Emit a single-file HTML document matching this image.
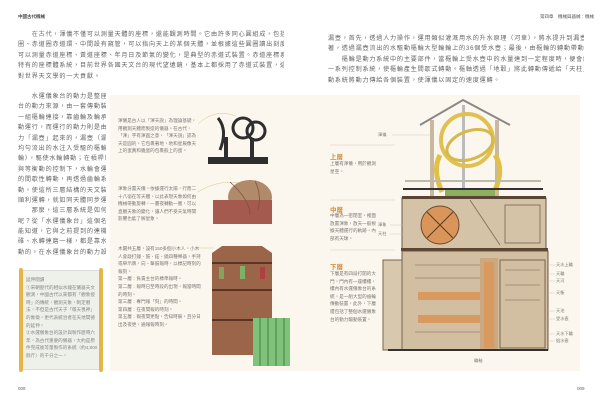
<!DOCTYPE html>
<html><head><meta charset="utf-8"><style>
*{margin:0;padding:0;box-sizing:border-box}
body{width:600px;height:410px;background:#fff;position:relative;overflow:hidden;font-family:"Liberation Sans","Noto Sans CJK TC",sans-serif;color:#555}
.a{position:absolute}
.t div{font-size:6.1px;line-height:10.4px;height:10.4px;color:#666;letter-spacing:.8px;white-space:nowrap;overflow:hidden}
.s{font-size:4.6px;line-height:7.6px;color:#777}
.h{font-size:6.5px;color:#d08a3a;font-weight:bold}
.lbl{font-size:4.2px;color:#777}
</style></head><body>
<div class="a" style="left:18px;top:14px;font-size:4.5px;font-weight:bold;color:#444">中國古代機械</div>
<div class="a" style="left:540px;top:14px;font-size:4.5px;color:#555">第四章　機械與器械：機械</div>

<div class="a t" style="left:18px;top:30px;width:266px">
<div>　　在古代，渾儀不僅可以測量天體的座標，還能觀測時間。它由許多同心圓組成，包括地平圈、子午</div>
<div>圈、赤道圈赤道環、中間設有窺管，可以指向天上的某個天體，並根據這些圓圈讀出刻度的數值。渾儀</div>
<div>可以測量赤道座標、黃道座標、年月日及節氣的變化，是典型的赤道式裝置。赤道座標系統是中國古代</div>
<div>特有的座標體系統，目前世界各國天文台的現代望遠鏡，基本上都採用了赤道式裝置，這也是古代中國</div>
<div>對世界天文學的一大貢獻。</div>
</div>

<div class="a t" style="left:328px;top:34px;width:256px">
<div>漏壺，首先，透過人力操作，運用類似灌溉用水的升水原理（河車），將水提升到漏壺的「天池」；接</div>
<div>著，透過漏壺流出的水驅動樞輪大型輪輪上的36個受水壺；最後，由樞輪的轉動帶動整座裝置運轉。</div>
<div>　　樞輪是動力系統中的主要部件，當樞輪上受水壺中的水量達到一定程度時，便會觸發控制樞輪轉動的</div>
<div>一系列控制系統，使樞輪產生間歇式轉動。樞軸透過「地轂」將此轉動傳遞給「天柱」，再透過齒輪傳</div>
<div>動系統將動力傳給各個裝置，使渾儀以固定的速度運轉。</div>
</div>
<style>.r5{display:none}</style>

<div class="a t" style="left:18px;top:92px;width:88px">
<div>　　水運儀象台的動力是整座水運儀象</div>
<div>台的動力來源，由一套傳動裝置與</div>
<div>一組樞輪連接，靠齒輪及輪承的聯</div>
<div>動運行，而運行的動力則是由水</div>
<div>力「漏壺」起來的，漏壺（漏壺）</div>
<div>均勻流出的水注入受驅的樞輪（樞</div>
<div>輪），驅使水輪轉動；在槓桿裝置</div>
<div>與等衡動的控制下，水輪會運行均勻</div>
<div>的間歇性轉動，再透過齒輪系統傳</div>
<div>動，使這所三層結構的天文裝置都</div>
<div>順利運轉，就如同天體同步運行。</div>
<div>　　那麼，這三層系統是如何運作的</div>
<div>呢？從「水運儀象台」這個名字就</div>
<div>能知道，它與之前提到的連機水</div>
<div>碓、水轉連磨一樣，都是靠水力驅</div>
<div>動的。在水運儀象台的動力設有一個</div>
</div>

<div class="a" style="left:110px;top:95px;width:470px;height:276px;background:#fcf7ee"></div>

<!-- scroll box -->
<div class="a" style="left:20px;top:270px;width:82px;height:100px;background:#eef0ea;border:1px solid #ddd"></div>
<div class="a" style="left:19px;top:268px;width:4px;height:104px;background:#e6b54a;border-radius:2px"></div>
<div class="a" style="left:99px;top:268px;width:4px;height:104px;background:#e6b54a;border-radius:2px"></div>
<div class="a s" style="left:26px;top:276px;width:72px;color:#888">延伸閱讀<br>①宋朝歷代的相似水鐘在儀器天文觀測，中國古代以來都有「觀象授時」的傳統，觀測天象，制定曆法，不但是古代天子「敬天畏神」的象徵，更代表統治者在天地間德的延伸。<br>②水運儀象台的設計與製作歷時六年，為古代重要的儀器，大約是原件完成後等量製作的系統（約4,800餘斤）的千分之一。</div>

<div class="a" style="left:18px;top:386px;font-size:4.5px;color:#666">008</div>
<div class="a" style="left:577px;top:386px;font-size:4.5px;color:#666">009</div>

<div class="a s" style="left:118px;top:117px;width:82px">渾儀是古人以「渾天說」為理論基礎，用觀測天體而製造的儀器。在古代，「渾」字有渾圓之意，「渾天說」認為天是圓的，它包裹著地，地和星辰像天上的蛋黃和雞蛋的包裹般上的蛋。</div>
<div class="a s" style="left:118px;top:185px;width:82px">渾象分置天儀。依據運行太陽，行而二十八宿在等天體，以此表現天象如何由機械帶動旋轉，一晝夜轉動一圈，可以直觀天象的變化，讓人們不受天氣時間影響也能了解星象。</div>
<div class="a s" style="left:118px;top:245px;width:84px">木閣共五層，設有150多個小木人。小木人會敲打鐘、鼓、鉦、鐃四種樂器，手持或舉示牌，向、擊鼓報時，以標記時刻的報刻。<br>第一層：負責主台的標準報時。<br>第二層：報時已至時段的出現，報當時間的時刻。<br>第三層：專門報「刻」的時間。<br>第四層：在夜間報的時刻。<br>第五層：報夜間更點，告知時辰，且分日出及夜更，通報報時刻。</div>
<svg class="a" style="left:0;top:0" width="600" height="410">
<g fill="none" stroke="#d8c48a" stroke-width=".5">
<path d="M198 124 Q215 108 236 116"/><path d="M198 192 Q220 178 245 184"/><path d="M198 248 L214 248"/>
</g>
<g stroke="#2e2e2e" fill="none" stroke-width="3">
<circle cx="243" cy="128" r="10"/><circle cx="256" cy="131" r="9"/>
<path d="M218 118 Q228 130 220 150"/>
</g>
<rect x="208" y="157" width="60" height="7" fill="#2e2e2e"/>
<rect x="224" y="137" width="4" height="20" fill="#2e2e2e"/><rect x="250" y="138" width="4" height="20" fill="#2e2e2e"/>
<ellipse cx="250" cy="197" rx="22" ry="17" fill="#b08a6a"/>
<path d="M213 200 L272 200 L272 224 L213 224 Z" fill="#a45a4f"/>
<path d="M230 182 Q250 200 250 215 M255 181 Q262 195 258 210" stroke="#7a5540" fill="none" stroke-width=".8"/>
<path d="M212 253 L222 246 L262 246 L272 253 L272 355 L212 355 Z" fill="#9a6548"/>
<g stroke="#5a3525" stroke-width="2"><line x1="212" y1="263" x2="272" y2="263"/><line x1="212" y1="290" x2="272" y2="290"/><line x1="212" y1="320" x2="272" y2="320"/></g>
<rect x="219" y="267" width="5" height="12" fill="#8aa060"/><rect x="240" y="266" width="5" height="13" fill="#7fb06a"/><rect x="260" y="267" width="5" height="12" fill="#b04040"/>
<rect x="253" y="318" width="37" height="48" fill="#7fc27a"/>
<g stroke="#3a5a3a" stroke-width=".7"><line x1="260" y1="318" x2="260" y2="366"/><line x1="268" y1="318" x2="268" y2="366"/><line x1="276" y1="318" x2="276" y2="366"/><line x1="284" y1="318" x2="284" y2="366"/></g>

<path d="M420 125 L463 100 L510 125" stroke="#888" stroke-width="2" fill="none"/>
<rect x="430" y="120" width="4" height="80" fill="#c8b8a0"/><rect x="495" y="120" width="4" height="80" fill="#c8b8a0"/>
<rect x="462" y="105" width="3" height="95" fill="#bbb"/>
<circle cx="467" cy="140" r="26" fill="none" stroke="#e0c050" stroke-width="4"/>
<ellipse cx="470" cy="145" rx="24" ry="14" fill="none" stroke="#d8b848" stroke-width="3" transform="rotate(-20 470 145)"/>
<path d="M440 155 Q432 170 442 192 M495 155 Q505 170 494 192" stroke="#e2c048" stroke-width="5" fill="none"/>
<rect x="445" y="190" width="50" height="8" fill="#8ab060"/>
<rect x="405" y="180" width="136" height="2" fill="#bba"/><rect x="403" y="188" width="140" height="2" fill="#333"/>
<rect x="402" y="198" width="144" height="52" fill="#d5c3a8" stroke="#6a5540"/>
<rect x="402" y="196" width="144" height="3" fill="#5a4535"/>
<circle cx="440" cy="225" r="19" fill="#d9955a" stroke="#6a4a30"/>
<path d="M427 212 L453 238 M427 238 L453 212" stroke="#5a3a20"/>
<rect x="505" y="205" width="35" height="38" fill="none" stroke="#8a7560"/>
<path d="M470 200 L500 245" stroke="#8a7560"/>
<rect x="401" y="248" width="147" height="3" fill="#5a4535"/>
<rect x="402" y="251" width="146" height="99" fill="#d2bfa2" stroke="#6a5540"/>
<rect x="383" y="260" width="19" height="90" fill="#d8c8ae" stroke="#7a6550"/>
<g fill="#d99a60"><rect x="418" y="292" width="62" height="8"/><rect x="418" y="315" width="62" height="8"/></g>
<g stroke="#7a6550" stroke-width=".6"><line x1="415" y1="265" x2="480" y2="265"/><line x1="415" y1="278" x2="480" y2="278"/><line x1="415" y1="332" x2="480" y2="332"/><line x1="505" y1="270" x2="540" y2="270"/><line x1="505" y1="285" x2="540" y2="285"/><line x1="505" y1="300" x2="540" y2="300"/></g>
<rect x="480" y="258" width="18" height="92" fill="#c9a882"/>
<rect x="484" y="262" width="10" height="86" fill="#d99a60"/>
<rect x="500" y="260" width="45" height="88" fill="none" stroke="#7a6550"/>
<rect x="388" y="349" width="160" height="2" fill="#333"/>
<g stroke="#cbb" stroke-width=".4">
<line x1="330" y1="145" x2="395" y2="145"/><line x1="330" y1="200" x2="395" y2="200"/><line x1="330" y1="250" x2="395" y2="250"/>
<line x1="392" y1="135" x2="430" y2="135"/><line x1="390" y1="225" x2="420" y2="225"/><line x1="390" y1="234" x2="420" y2="234"/>
<line x1="548" y1="265" x2="555" y2="265"/><line x1="548" y1="274" x2="555" y2="274"/><line x1="548" y1="281" x2="555" y2="281"/><line x1="548" y1="293" x2="555" y2="293"/><line x1="548" y1="311" x2="555" y2="311"/><line x1="548" y1="319" x2="555" y2="319"/><line x1="548" y1="334" x2="555" y2="334"/><line x1="548" y1="341" x2="555" y2="341"/>
</g>
</svg>
<div class="a lbl" style="left:378px;top:132px">渾儀</div>
<div class="a lbl" style="left:378px;top:222px">渾象</div>
<div class="a lbl" style="left:378px;top:231px">天柱</div>
<div class="a h" style="left:330px;top:151px">上層</div>
<div class="a s" style="left:330px;top:160px;width:50px">上層有渾儀，用於觀測星空。</div>
<div class="a h" style="left:330px;top:204px">中層</div>
<div class="a s" style="left:330px;top:212px;width:48px">中層為一密閉室，裡面放置渾象，放天一般根據天體運行的軌跡，內部有天球。</div>
<div class="a h" style="left:330px;top:261px">下層</div>
<div class="a s" style="left:330px;top:270px;width:48px">下層是有四扇打開的大門，門內有一座樓樓，樓內有水運儀象台的系統，是一組大型的齒輪傳動裝置，此外，下層還包括了整個水運儀象台的動力驅動裝置。</div>
<div class="a lbl" style="left:556px;top:262px">天水上輪</div>
<div class="a lbl" style="left:556px;top:271px">天輪</div>
<div class="a lbl" style="left:556px;top:278px">天河</div>
<div class="a lbl" style="left:556px;top:290px">天衡</div>
<div class="a lbl" style="left:556px;top:308px">天池</div>
<div class="a lbl" style="left:556px;top:316px">受水壺</div>
<div class="a lbl" style="left:556px;top:331px">天水下輪</div>
<div class="a lbl" style="left:556px;top:338px">退水壺</div>
<div class="a lbl" style="left:474px;top:358px">輪軸</div>
</body></html>
